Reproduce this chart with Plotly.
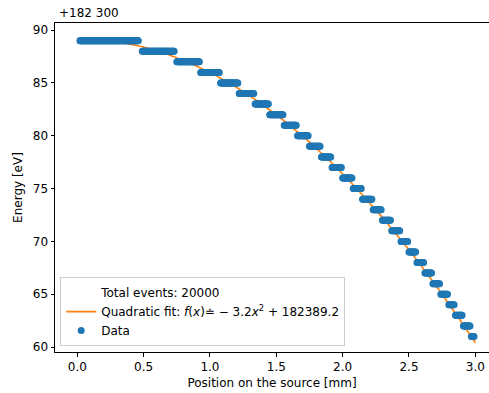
import numpy as np
import plotly.graph_objects as go

OFFSET = 182300
levels = [182389, 182388, 182387, 182386, 182385, 182384, 182383, 182382, 182381, 182380,
          182379, 182378, 182377, 182376, 182375, 182374, 182373, 182372, 182371, 182370,
          182369, 182368, 182367, 182366, 182365, 182364, 182363, 182362, 182361]
x_start = [0.02, 0.49, 0.75, 0.93, 1.08, 1.22, 1.34, 1.45, 1.56, 1.66, 1.75, 1.84, 1.92, 2.00,
           2.08, 2.15, 2.23, 2.30, 2.37, 2.44, 2.50, 2.56, 2.62, 2.68, 2.74, 2.80, 2.85, 2.91, 2.97]
x_end = [0.46, 0.73, 0.92, 1.07, 1.21, 1.33, 1.44, 1.55, 1.65, 1.74, 1.83, 1.91, 1.99, 2.07,
         2.14, 2.22, 2.29, 2.36, 2.43, 2.49, 2.55, 2.61, 2.67, 2.73, 2.79, 2.84, 2.90, 2.96, 2.99]
fit_a = -3.2
fit_c = 182389.2
yticks = [60, 65, 70, 75, 80, 85, 90]
xticks = [0.0, 0.5, 1.0, 1.5, 2.0, 2.5, 3.0]

# dense sampling of each recorded step for drawing
xs, ys = [], []
for lv, a, b in zip(levels, x_start, x_end):
    n = max(2, int((b - a) / 0.004))
    xx = np.linspace(a, b, n)
    xs.extend(xx.tolist())
    ys.extend([lv] * n)

xf = np.linspace(0, 3, 200)
yf = fit_a * xf ** 2 + fit_c

blue = "#1f77b4"
orange = "#ff7f0e"
FONT = "DejaVu Sans"
FS = 12

fig = go.Figure()
fig.add_trace(go.Scatter(x=[None], y=[None], mode="lines", line=dict(color="rgba(0,0,0,0)"),
                         name="Total events: 20000", legendrank=1))
fig.add_trace(go.Scatter(x=xf, y=yf, mode="lines", line=dict(color=orange, width=1.6),
                         name="Quadratic fit: <i>f</i>(<i>x</i>)≐ − 3.2<i>x</i><sup>2</sup> + 182389.2",
                         legendrank=2))
fig.add_trace(go.Scatter(x=xs, y=ys, mode="markers",
                         marker=dict(color=blue, size=7, line=dict(width=0)),
                         error_y=dict(type="constant", value=0.25, color=blue, thickness=1, width=0),
                         name="Data", legendrank=3))

fig.update_layout(
    width=489, height=393,
    margin=dict(l=55, r=0, t=23, b=41),
    paper_bgcolor="white", plot_bgcolor="white",
    font=dict(family=FONT, size=FS, color="black"),
    showlegend=True,
    legend=dict(x=0.012, y=0.018, xanchor="left", yanchor="bottom",
                bgcolor="rgba(255,255,255,0.8)", bordercolor="#cccccc", borderwidth=1,
                font=dict(size=FS), tracegroupgap=0),
    xaxis=dict(range=[-0.168, 3.103], tickvals=xticks, ticktext=[f"{v:.1f}" for v in xticks],
               showgrid=False, zeroline=False, showline=True, linecolor="black", linewidth=1,
               mirror=True, ticks="outside", ticklen=3.5, tickwidth=1, tickcolor="black",
               tickfont=dict(size=FS),
               title=dict(text="Position on the source [mm]", standoff=5, font=dict(size=FS))),
    yaxis=dict(range=[OFFSET + 59.53, OFFSET + 90.68], tickvals=[OFFSET + v for v in yticks],
               ticktext=[str(v) for v in yticks],
               showgrid=False, zeroline=False, showline=True, linecolor="black", linewidth=1,
               mirror=False, ticks="outside", ticklen=3.5, tickwidth=1, tickcolor="black",
               tickfont=dict(size=FS),
               title=dict(text="Energy [eV]", standoff=7, font=dict(size=FS))),
    annotations=[dict(text="+182 300", xref="paper", yref="paper", x=0, y=1,
                      xanchor="left", yanchor="bottom", showarrow=False, xshift=2, yshift=1,
                      font=dict(size=FS, family=FONT, color="black"))],
)

fig.write_html("out.html")
